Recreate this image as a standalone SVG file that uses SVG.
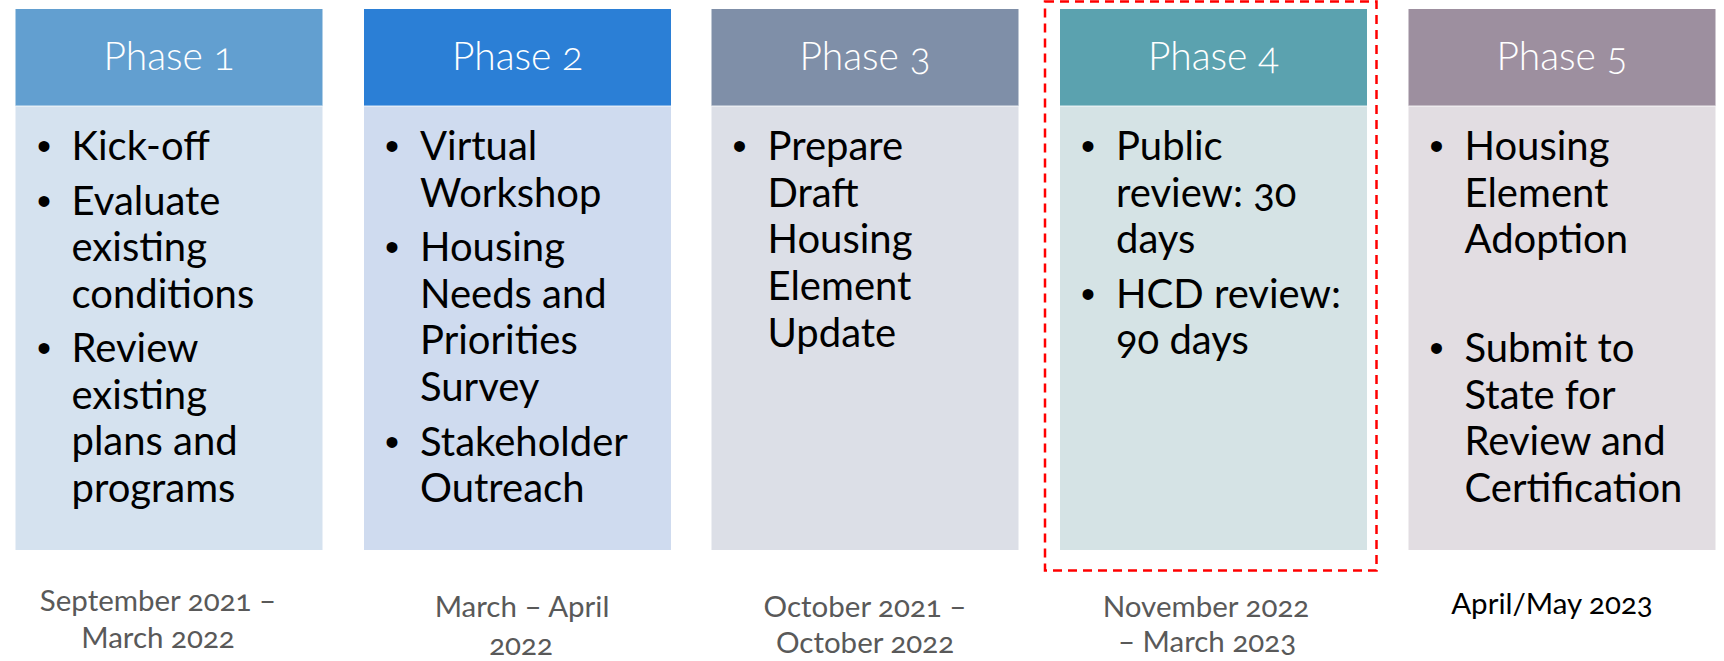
<svg xmlns="http://www.w3.org/2000/svg" width="1724" height="661" viewBox="0 0 1724 661">
<style>
  text { font-family: Lato, "Open Sans", "Liberation Sans", sans-serif; font-variant-numeric: oldstyle-nums; }
  .hd { font-size: 39px; fill: #ffffff; text-anchor: middle; font-weight: 300; }
  .bd { font-size: 40px; fill: #000000; }
  .bl { font-family: "Liberation Sans", Arial, sans-serif; font-size: 40px; fill: #000000; text-anchor: middle; }
  .dt { font-size: 29.5px; fill: #595959; text-anchor: middle; }
  .dtb { font-size: 29.5px; fill: #000000; text-anchor: middle; }
  .edge { stroke: #ffffff; stroke-opacity: 0.55; stroke-width: 1.5; }
  .sel { fill: none; stroke: #ff0000; stroke-width: 2.5; stroke-dasharray: 9 6; }
</style>
<rect x="0" y="0" width="1724" height="661" fill="#ffffff"/>

<g id="phase1">
  <rect x="15.5" y="106" width="307" height="444" fill="#D5E2EF"/>
  <rect x="15.5" y="9" width="307" height="97" fill="#629FD0"/>
  <line class="edge" x1="15.5" y1="106" x2="322.5" y2="106"/>
  <text class="hd" x="169" y="70">Phase 1</text>
  <text class="bl" x="44" y="160">•</text>
  <text class="bd" x="71.5" y="160">Kick-off</text>
  <text class="bl" x="44" y="214.5">•</text>
  <text class="bd" x="71.5" y="214.5">Evaluate</text>
  <text class="bd" x="71.5" y="261">existing</text>
  <text class="bd" x="71.5" y="307.5">conditions</text>
  <text class="bl" x="44" y="362">•</text>
  <text class="bd" x="71.5" y="362">Review</text>
  <text class="bd" x="71.5" y="408.5">existing</text>
  <text class="bd" x="71.5" y="455">plans and</text>
  <text class="bd" x="71.5" y="502">programs</text>
  <text class="dt" x="158" y="611">September 2021 –</text>
  <text class="dt" x="158" y="648">March 2022</text>
</g>

<g id="phase2">
  <rect x="364" y="106" width="307" height="444" fill="#CFDBEF"/>
  <rect x="364" y="9" width="307" height="97" fill="#2B7FD6"/>
  <line class="edge" x1="364" y1="106" x2="671" y2="106"/>
  <text class="hd" x="517.5" y="70">Phase 2</text>
  <text class="bl" x="392" y="160">•</text>
  <text class="bd" x="420" y="160">Virtual</text>
  <text class="bd" x="420" y="206.7">Workshop</text>
  <text class="bl" x="392" y="261">•</text>
  <text class="bd" x="420" y="261">Housing</text>
  <text class="bd" x="420" y="307.7">Needs and</text>
  <text class="bd" x="420" y="354.4">Priorities</text>
  <text class="bd" x="420" y="401">Survey</text>
  <text class="bl" x="392" y="455.5">•</text>
  <text class="bd" x="420" y="455.5">Stakeholder</text>
  <text class="bd" x="420" y="502">Outreach</text>
  <text class="dt" x="522" y="616.5">March – April</text>
  <text class="dt" x="521" y="655">2022</text>
</g>

<g id="phase3">
  <rect x="711.5" y="106" width="307" height="444" fill="#DCDFE7"/>
  <rect x="711.5" y="9" width="307" height="97" fill="#7F8FA8"/>
  <line class="edge" x1="711.5" y1="106" x2="1018.5" y2="106"/>
  <text class="hd" x="865" y="70">Phase 3</text>
  <text class="bl" x="739.5" y="160">•</text>
  <text class="bd" x="767.5" y="160">Prepare</text>
  <text class="bd" x="767.5" y="206.7">Draft</text>
  <text class="bd" x="767.5" y="253.3">Housing</text>
  <text class="bd" x="767.5" y="300">Element</text>
  <text class="bd" x="767.5" y="346.7">Update</text>
  <text class="dt" x="865" y="616.5">October 2021 –</text>
  <text class="dt" x="865" y="653">October 2022</text>
</g>

<g id="phase4">
  <rect x="1060" y="106" width="307" height="444" fill="#D5E3E5"/>
  <rect x="1060" y="9" width="307" height="97" fill="#5BA2AF"/>
  <line class="edge" x1="1060" y1="106" x2="1367" y2="106"/>
  <text class="hd" x="1213.5" y="70">Phase 4</text>
  <text class="bl" x="1088" y="160">•</text>
  <text class="bd" x="1116" y="160">Public</text>
  <text class="bd" x="1116" y="206.7">review: 30</text>
  <text class="bd" x="1116" y="253.3">days</text>
  <text class="bl" x="1088" y="307.7">•</text>
  <text class="bd" x="1116" y="307.7">HCD review:</text>
  <text class="bd" x="1116" y="354.4">90 days</text>
  <text class="dt" x="1206" y="616.5">November 2022</text>
  <text class="dt" x="1207" y="651.5">– March 2023</text>
</g>

<g id="phase5">
  <rect x="1408.5" y="106" width="307" height="444" fill="#E2DDE2"/>
  <rect x="1408.5" y="9" width="307" height="97" fill="#9D8F9F"/>
  <line class="edge" x1="1408.5" y1="106" x2="1715.5" y2="106"/>
  <text class="hd" x="1562" y="70">Phase 5</text>
  <text class="bl" x="1436.5" y="160">•</text>
  <text class="bd" x="1464.5" y="160">Housing</text>
  <text class="bd" x="1464.5" y="206.7">Element</text>
  <text class="bd" x="1464.5" y="253.3">Adoption</text>
  <text class="bl" x="1436.5" y="362">•</text>
  <text class="bd" x="1464.5" y="362">Submit to</text>
  <text class="bd" x="1464.5" y="408.7">State for</text>
  <text class="bd" x="1464.5" y="455.4">Review and</text>
  <text class="bd" x="1464.5" y="502">Certification</text>
  <text class="dtb" x="1552" y="613.5">April/May 2023</text>
</g>

<g id="highlight">
  <rect class="sel" x="1045" y="1.5" width="331.5" height="569"/>
</g>
</svg>
